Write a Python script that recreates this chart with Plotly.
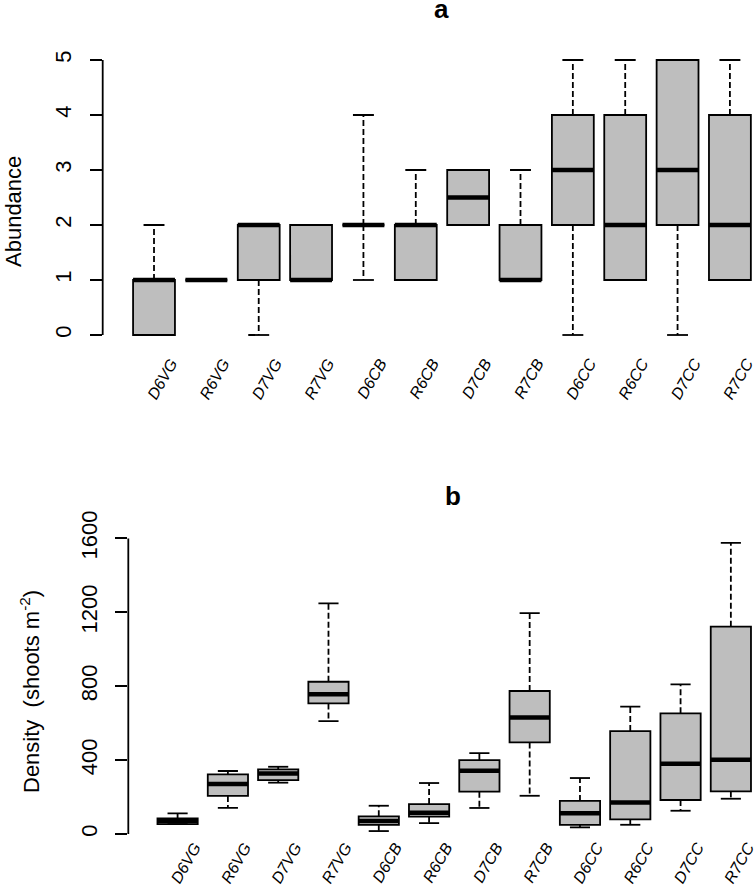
import plotly.graph_objects as go

# ---------------- data ----------------
groups = ["D6VG", "R6VG", "D7VG", "R7VG", "D6CB", "R6CB",
          "D7CB", "R7CB", "D6CC", "R6CC", "D7CC", "R7CC"]

# panel a: Abundance
a_low = [0, 1, 0, 1, 1, 1, 2, 1, 0, 1, 0, 1]
a_q1 = [0, 1, 1, 1, 2, 1, 2, 1, 2, 1, 2, 1]
a_med = [1, 1, 2, 1, 2, 2, 2.5, 1, 3, 2, 3, 2]
a_q3 = [1, 1, 2, 2, 2, 2, 3, 2, 4, 4, 5, 4]
a_high = [2, 1, 2, 2, 4, 3, 3, 3, 5, 5, 5, 5]
a_ticks = [0, 1, 2, 3, 4, 5]

# panel b: Density (shoots m-2)
b_low = [54, 142, 278, 611, 16, 59, 141, 207, 36, 50, 126, 191]
b_q1 = [54, 206, 292, 707, 50, 94, 229, 496, 50, 79, 184, 231]
b_med = [70, 271, 328, 756, 70, 115, 343, 631, 112, 171, 381, 402]
b_q3 = [85, 323, 350, 824, 96, 162, 400, 774, 179, 557, 653, 1122]
b_high = [112, 341, 364, 1248, 153, 276, 438, 1196, 303, 689, 810, 1576]
b_ticks = [0, 400, 800, 1200, 1600]

W, H = 754, 886
FONT = "Liberation Sans, Arial, sans-serif"
FILL = "#BEBEBE"
LW = 1.8
pos = list(range(1, len(groups) + 1))


def fx(px):
    return px / W


def fy(py):
    return 1 - py / H


def panel_traces(low, q1, med, q3, high, xa, ya):
    tr = []
    tr.append(go.Box(
        x=pos, q1=q1, median=med, q3=q3, lowerfence=q1, upperfence=q3,
        width=0.8, fillcolor=FILL, line=dict(color="black", width=LW),
        whiskerwidth=0, boxpoints=False, showlegend=False, hoverinfo="skip",
        xaxis=xa, yaxis=ya))
    # dashed whiskers
    wx, wy = [], []
    for p, l, a, b, h in zip(pos, low, q1, q3, high):
        wx += [p, p, None, p, p, None]
        wy += [b, h, None, a, l, None]
    tr.append(go.Scatter(x=wx, y=wy, mode="lines",
                         line=dict(color="black", width=LW, dash="6px,3px"),
                         showlegend=False, hoverinfo="skip", xaxis=xa, yaxis=ya))
    # staples
    cx, cy = [], []
    for p, l, h in zip(pos, low, high):
        cx += [p - 0.2, p + 0.2, None, p - 0.2, p + 0.2, None]
        cy += [h, h, None, l, l, None]
    tr.append(go.Scatter(x=cx, y=cy, mode="lines",
                         line=dict(color="black", width=LW),
                         showlegend=False, hoverinfo="skip", xaxis=xa, yaxis=ya))
    # thick medians
    mx, my = [], []
    for p, m in zip(pos, med):
        mx += [p - 0.4, p + 0.4, None]
        my += [m, m, None]
    tr.append(go.Scatter(x=mx, y=my, mode="lines",
                         line=dict(color="black", width=4.5),
                         showlegend=False, hoverinfo="skip", xaxis=xa, yaxis=ya))
    return tr


fig = go.Figure()
for t in panel_traces(a_low, a_q1, a_med, a_q3, a_high, "x", "y"):
    fig.add_trace(t)
for t in panel_traces(b_low, b_q1, b_med, b_q3, b_high, "x2", "y2"):
    fig.add_trace(t)

italic_groups = ["<i>%s</i>" % g for g in groups]


def xaxis_cfg(left_px, rng, anchor, standoff):
    return dict(domain=[fx(left_px), 1], range=rng, anchor=anchor,
                tickmode="array", tickvals=pos, ticktext=italic_groups,
                tickangle=-60, ticks="", showline=False, showgrid=False,
                zeroline=False, ticklabelshift=17, ticklabelstandoff=standoff,
                ticklabeloverflow="allow",
                tickfont=dict(family=FONT, size=16, color="black"),
                automargin=False, fixedrange=True)


def yaxis_cfg(top_px, bot_px, rng, ticks, anchor):
    return dict(domain=[fy(bot_px), fy(top_px)], range=rng,
                anchor=anchor, tickmode="array", tickvals=ticks,
                ticks="outside", ticklen=12, tickwidth=LW, tickcolor="black",
                tickangle=-90, showline=False, showgrid=False, zeroline=False,
                ticklabelstandoff=10,
                tickfont=dict(family=FONT, size=22, color="black"),
                automargin=False, fixedrange=True)


fig.update_layout(
    width=W, height=H,
    margin=dict(l=0, r=0, t=0, b=0),
    paper_bgcolor="white", plot_bgcolor="white",
    showlegend=False,
    xaxis=xaxis_cfg(102.7, [0.02, 12.46], "y", 4),
    yaxis=yaxis_cfg(49, 346, [-0.2, 5.2], a_ticks, "x"),
    xaxis2=xaxis_cfg(128.3, [0.02, 12.46], "y2", -10),
    yaxis2=yaxis_cfg(531, 844, [-54, 1640], b_ticks, "x2"),
)

# axis lines spanning only the tick range (R style)
fig.add_shape(type="line", xref="x domain", yref="y", x0=0, x1=0,
              y0=a_ticks[0], y1=a_ticks[-1], line=dict(color="black", width=LW))
fig.add_shape(type="line", xref="x2 domain", yref="y2", x0=0, x1=0,
              y0=b_ticks[0], y1=b_ticks[-1], line=dict(color="black", width=LW))

ann = [
    dict(text="<b>a</b>", x=442, y=9, size=26, angle=0),
    dict(text="<b>b</b>", x=453, y=496, size=26, angle=0),
    dict(text="Abundance", x=13, y=212, size=22, angle=-90),
    dict(text="Density&nbsp; (shoots m<sup>-2</sup>)", x=30, y=692,
         size=22, angle=-90),
]
for a in ann:
    fig.add_annotation(text=a["text"], x=fx(a["x"]), y=fy(a["y"]), xref="paper",
                       yref="paper", xanchor="center", yanchor="middle",
                       textangle=a["angle"], showarrow=False,
                       font=dict(family=FONT, size=a["size"], color="black"))

fig.write_html(
    "out.html",
    config={"displayModeBar": False},
    post_script="document.body.style.margin='0';"
                "document.body.style.overflow='hidden';",
)
